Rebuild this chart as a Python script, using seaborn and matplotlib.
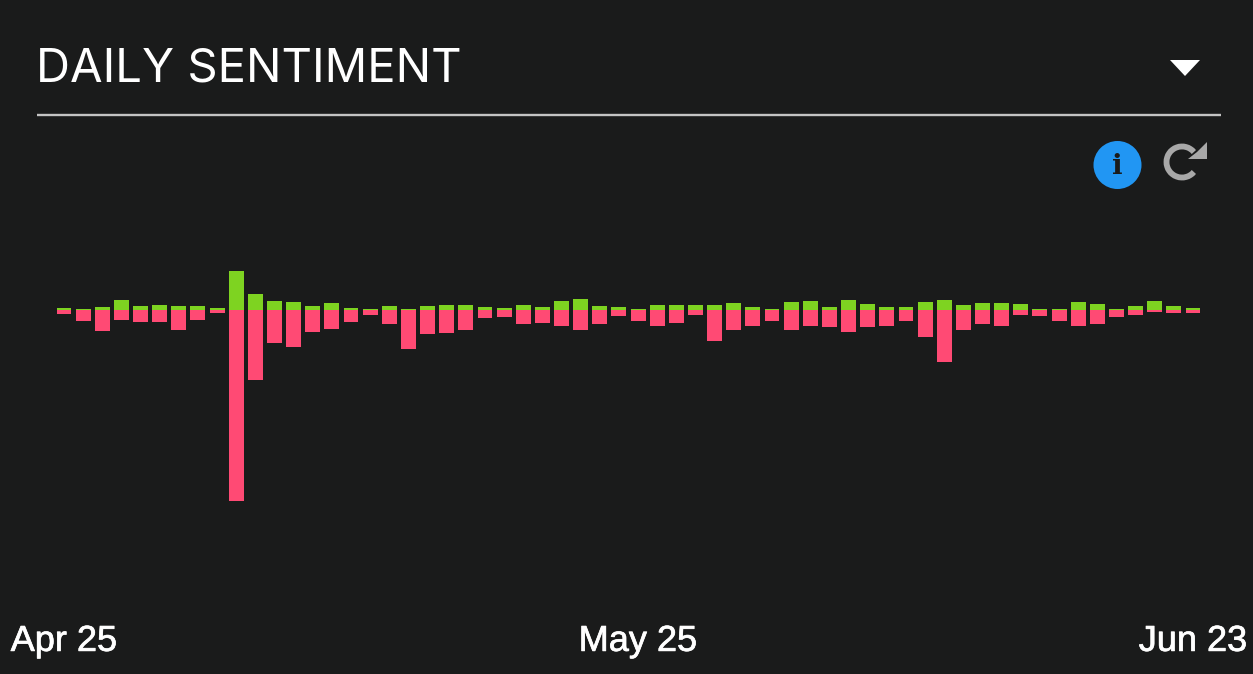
# Daily sentiment panel: positive and negative volume per day as diverging bars.
import matplotlib
matplotlib.use('Agg')
import matplotlib.pyplot as plt
from matplotlib.patches import Arc, Circle, Polygon
import matplotlib.patheffects as pe
import pandas as pd
import seaborn as sns

# Values
days = pd.date_range('2020-04-25', periods=60).strftime('%b %d').tolist()
positive = [2, 1, 3, 10, 4, 5, 4, 4, 2, 39, 16, 9, 8, 4, 7, 2, 1, 4, 1, 4,
            5, 5, 3, 2, 5, 3, 9, 11, 4, 3, 1, 5, 5, 5, 5, 7, 3, 1, 8, 9,
            3, 10, 6, 3, 3, 8, 10, 5, 7, 7, 6, 1, 1, 8, 6, 0.5, 4, 9, 4, 2]
negative = [4, 11, 21, 10, 12, 12, 20, 10, 3, 191, 70, 33, 37, 22, 19, 12, 5, 14, 39, 24,
            23, 20, 8, 7, 14, 13, 16, 20, 14, 6, 11, 16, 13, 5, 31, 20, 16, 11, 20, 16,
            17, 22, 17, 16, 11, 27, 52, 20, 14, 16, 5, 6, 11, 16, 14, 7, 5, 2, 3, 3]
tick_labels = ['Apr 25', 'May 25', 'Jun 23']
tick_days = [0, 30, 59]

data = pd.DataFrame({'day': days, 'positive': positive,
                     'negative': [-v for v in negative]})

BG = '#1a1b1b'
W, H = 1253, 674
sns.set_theme(style='dark')
plt.rcParams['font.family'] = ['Liberation Sans', 'DejaVu Sans']

fig = plt.figure(figsize=(W / 100, H / 100), dpi=100, facecolor=BG)

# Bars: the axes covers the top 610 px with the baseline at y=310
ax = fig.add_axes([0, 1 - 610 / H, 1, 610 / H], facecolor=BG)
sns.barplot(data=data, x='day', y='negative', color='#ff4a74', saturation=1,
            width=0.78, linewidth=0, ax=ax)
sns.barplot(data=data, x='day', y='positive', color='#7ed321', saturation=1,
            width=0.78, linewidth=0, ax=ax)
step = (1193 - 64) / 59
ax.set_xlim(-64 / step, (W - 64) / step)
ax.set_ylim(-300.5, 309.5)
ax.set_xticks(tick_days)
ax.set_xticklabels(tick_labels, color='white', fontsize=26,
                   path_effects=[pe.withStroke(linewidth=0.5, foreground='white')])
ax.tick_params(axis='x', length=0, pad=10)
ax.set_yticks([])
ax.set_xlabel('')
ax.set_ylabel('')
sns.despine(ax=ax, left=True, bottom=True)

# Header and icons, drawn in pixel coordinates
top = fig.add_axes([0, 0, 1, 1], facecolor='none')
top.set_xlim(0, W)
top.set_ylim(H, 0)
top.axis('off')
top.text(36, 69, 'DAILY SENTIMENT', color='white', fontsize=34,
         family='Inter', va='center', ha='left')
top.plot([37, 1221], [115, 115], color='#c4c4c4', lw=1.7, solid_capstyle='butt')
top.add_patch(Polygon([[1170, 60], [1200, 60], [1185, 76]], color='white', lw=0))
top.add_patch(Circle((1117.5, 165), 24, color='#2196f3', lw=0))
top.text(1117.5, 166, 'i', color=BG, fontsize=20, fontweight='bold',
         family='DejaVu Serif', ha='center', va='center')
top.add_patch(Arc((1182, 162), 31, 31, theta1=40, theta2=320, color='#a8a8a8', lw=4.2))
top.add_patch(Polygon([[1197, 152], [1207, 142], [1207, 159], [1188, 159]], color='#a8a8a8', lw=0))

fig.savefig('out.png', dpi=100, facecolor=BG)
